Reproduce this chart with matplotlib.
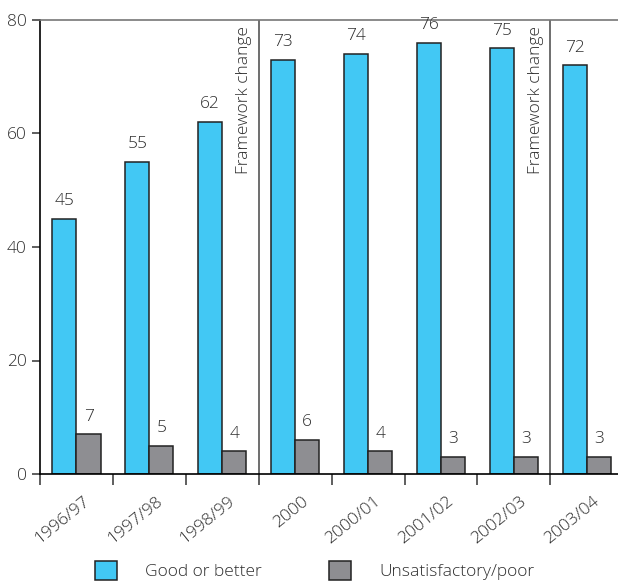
import matplotlib
matplotlib.use("Agg")
import matplotlib.pyplot as plt
import matplotlib.transforms as mtrans
import numpy as np

years = ["1996/97", "1997/98", "1998/99", "2000", "2000/01", "2001/02", "2002/03", "2003/04"]
good = [45, 55, 62, 73, 74, 76, 75, 72]
poor = [7, 5, 4, 6, 4, 3, 3, 3]
changes = [3, 7]  # framework change before these group boundaries

blue = "#42c8f4"
grey = "#8e8e92"
txt = "#2e2e2e"

plt.rcParams['font.family'] = ['Open Sans', 'DejaVu Sans']
plt.rcParams['font.weight'] = 'light'

fig = plt.figure(figsize=(6.18, 5.83), dpi=100)
ax = fig.add_axes([40/618, 109/583, 1 - 40/618, (474-20)/583])

x = np.arange(len(years)) + 0.5
w = 0.33
b1 = ax.bar(x - w/2, good, w, color=blue, edgecolor="#222222", linewidth=1.1, label="Good or better")
b2 = ax.bar(x + w/2, poor, w, color=grey, edgecolor="#222222", linewidth=1.1, label="Unsatisfactory/poor")

for rect, v in list(zip(b1, good)) + list(zip(b2, poor)):
    ax.annotate(str(v), (rect.get_x() + rect.get_width()/2, v), xytext=(0, 7),
                textcoords="offset points", ha="center", va="bottom", fontsize=12.5, color=txt)

for c in changes:
    ax.axvline(c, color="#555555", linewidth=1.2)
    ax.text(c - 0.09, 79, "Framework change", rotation=90, ha="right", va="top", fontsize=12.5, color=txt)

ax.set_xlim(0, 578/72.9)
ax.set_ylim(0, 80)
ax.set_yticks([0, 20, 40, 60, 80])
ax.set_xticks(np.arange(len(years)))
ax.set_xticklabels([])
ax.set_xticks(x, minor=True)
ax.set_xticklabels(years, minor=True, rotation=39, ha="right", rotation_mode="anchor", fontsize=12.5, color=txt)
ax.tick_params(axis="x", which="major", length=8, width=1.1, color="#333333", direction="out")
ax.tick_params(axis="x", which="minor", length=0, pad=14)
ax.tick_params(axis="y", length=6, width=1.1, color="#333333", labelsize=12.5, labelcolor=txt)
shift = mtrans.ScaledTranslation(6/100, 0, fig.dpi_scale_trans)
for lab in ax.get_xticklabels(minor=True):
    lab.set_transform(lab.get_transform() + shift)

ax.spines["right"].set_visible(False)
ax.spines["top"].set_color("#777777")
ax.spines["top"].set_linewidth(1.2)
ax.spines["left"].set_linewidth(1.2)
ax.spines["bottom"].set_linewidth(1.2)

fig.legend(handles=[b1, b2], loc="upper left", bbox_to_anchor=(95/618, 1 - 561/583), ncol=2,
           frameon=False, fontsize=12.5, handlelength=1.27, handleheight=1.27, borderpad=0,
           borderaxespad=0, handletextpad=1.6, columnspacing=3.9, labelcolor=txt)

fig.savefig("out.png", dpi=100)
